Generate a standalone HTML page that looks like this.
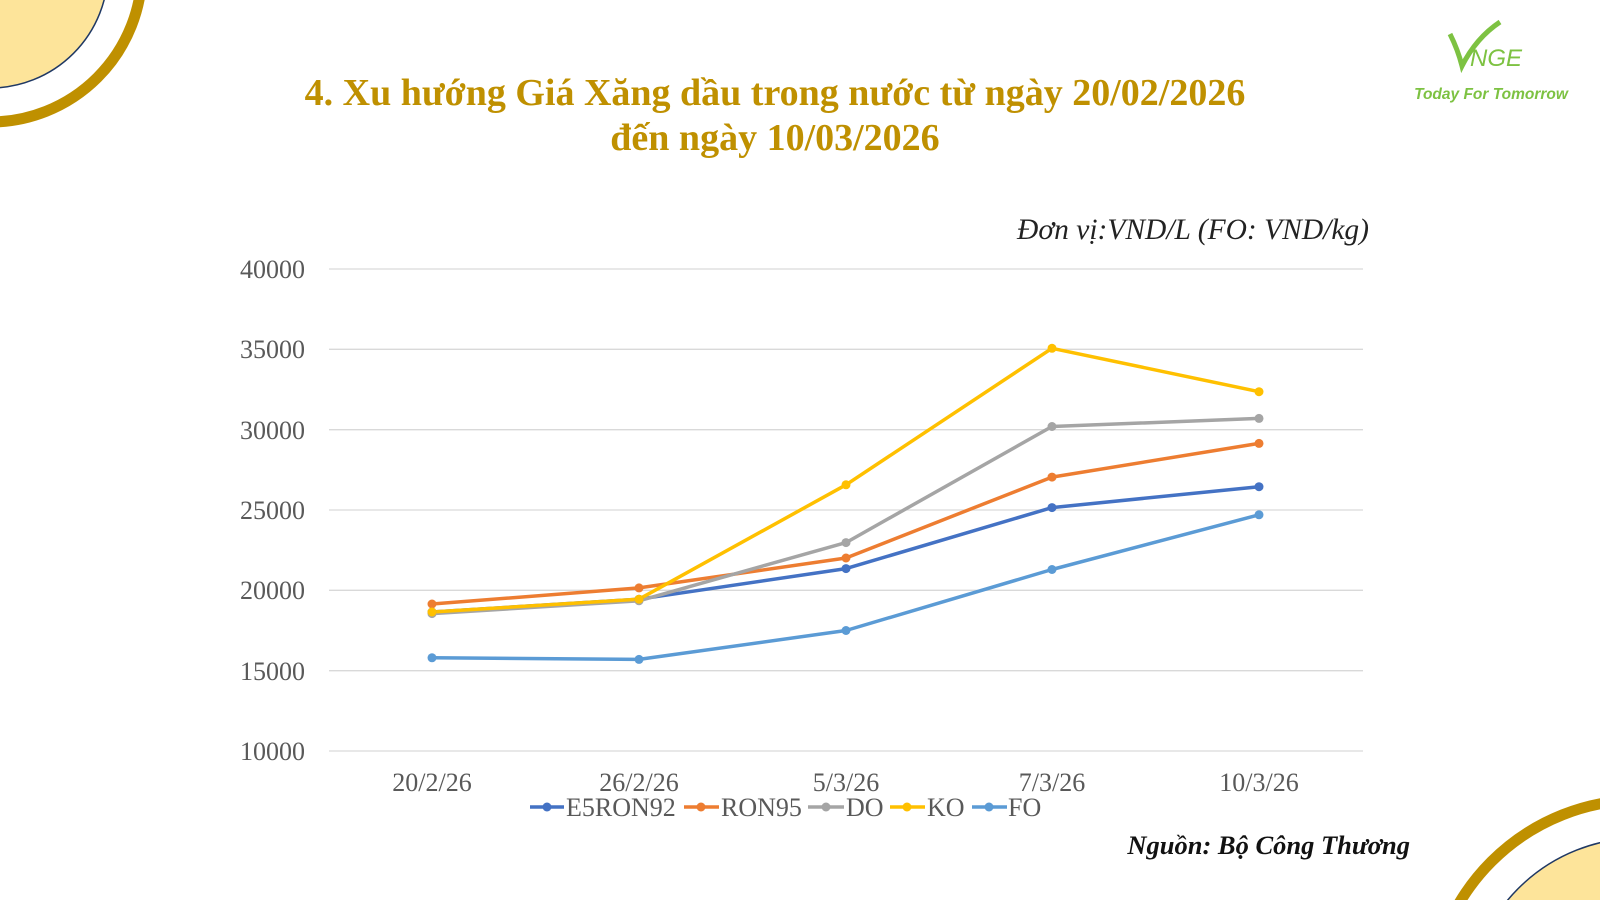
<!DOCTYPE html>
<html style="overflow:hidden"><head><meta charset="utf-8"><style>
html,body{margin:0;width:1600px;height:900px;overflow:hidden}
body{background:#fff;position:relative;font-family:"Liberation Serif",serif}
.t{position:absolute;left:0;width:1550px;text-align:center;color:#bf9000;font-weight:bold;font-size:38px;line-height:45px}
</style></head><body>
<svg width="1600" height="900" style="position:absolute;left:0;top:0" font-family="Liberation Serif, serif">
<circle cx="-10" cy="-30" r="118" fill="#fde49a" stroke="#1f3864" stroke-width="1.5"/>
<circle cx="-10" cy="-30" r="152" fill="none" stroke="#bf9000" stroke-width="11"/>
<circle cx="1640" cy="1010" r="172" fill="#fde49a" stroke="#1f3864" stroke-width="1.5"/>
<circle cx="1640" cy="1010" r="210" fill="none" stroke="#bf9000" stroke-width="11"/>
<g stroke="#d9d9d9" stroke-width="1.3">
<line x1="329" x2="1363" y1="269" y2="269"/><line x1="329" x2="1363" y1="349.3" y2="349.3"/>
<line x1="329" x2="1363" y1="429.7" y2="429.7"/><line x1="329" x2="1363" y1="510" y2="510"/>
<line x1="329" x2="1363" y1="590.3" y2="590.3"/><line x1="329" x2="1363" y1="670.7" y2="670.7"/>
<line x1="329" x2="1363" y1="751" y2="751"/></g>
<g font-size="26" fill="#595959" text-anchor="end">
<text x="305" y="278">40000</text><text x="305" y="358">35000</text><text x="305" y="439">30000</text>
<text x="305" y="519">25000</text><text x="305" y="599">20000</text><text x="305" y="680">15000</text><text x="305" y="760">10000</text></g>
<g font-size="26" fill="#595959" text-anchor="middle">
<text x="432" y="791">20/2/26</text><text x="639" y="791">26/2/26</text><text x="846" y="791">5/3/26</text>
<text x="1052" y="791">7/3/26</text><text x="1259" y="791">10/3/26</text></g>
<g fill="none" stroke-width="3.5" stroke-linejoin="round">
<polyline stroke="#5b9bd5" points="432,657.8 639,659.4 846,630.5 1052,569.5 1259,514.8"/>
<polyline stroke="#4472c4" points="432,612.0 639,599.2 846,568.6 1052,507.6 1259,486.7"/>
<polyline stroke="#ed7d31" points="432,604.0 639,587.9 846,558.0 1052,477.1 1259,443.4"/>
<polyline stroke="#a5a5a5" points="432,613.6 639,600.8 846,542.6 1052,426.5 1259,418.4"/>
<polyline stroke="#ffc000" points="432,612.0 639,599.2 846,484.8 1052,348.3 1259,391.7"/>
</g>
<g stroke="none">
<g fill="#5b9bd5"><circle cx="432" cy="657.8" r="4.5"/><circle cx="639" cy="659.4" r="4.5"/><circle cx="846" cy="630.5" r="4.5"/><circle cx="1052" cy="569.5" r="4.5"/><circle cx="1259" cy="514.8" r="4.5"/></g>
<g fill="#4472c4"><circle cx="432" cy="612" r="4.5"/><circle cx="639" cy="599.2" r="4.5"/><circle cx="846" cy="568.6" r="4.5"/><circle cx="1052" cy="507.6" r="4.5"/><circle cx="1259" cy="486.7" r="4.5"/></g>
<g fill="#ed7d31"><circle cx="432" cy="604" r="4.5"/><circle cx="639" cy="587.9" r="4.5"/><circle cx="846" cy="558" r="4.5"/><circle cx="1052" cy="477.1" r="4.5"/><circle cx="1259" cy="443.4" r="4.5"/></g>
<g fill="#a5a5a5"><circle cx="432" cy="613.6" r="4.5"/><circle cx="639" cy="600.8" r="4.5"/><circle cx="846" cy="542.6" r="4.5"/><circle cx="1052" cy="426.5" r="4.5"/><circle cx="1259" cy="418.4" r="4.5"/></g>
<g fill="#ffc000"><circle cx="432" cy="612" r="4.5"/><circle cx="639" cy="599.2" r="4.5"/><circle cx="846" cy="484.8" r="4.5"/><circle cx="1052" cy="348.3" r="4.5"/><circle cx="1259" cy="391.7" r="4.5"/></g>
</g>
<g font-size="26" fill="#595959" stroke-width="3.5">
<line x1="530" x2="564" y1="807" y2="807" stroke="#4472c4"/><circle cx="547" cy="807" r="4.5" fill="#4472c4"/><text x="566" y="816">E5RON92</text>
<line x1="684" x2="719" y1="807" y2="807" stroke="#ed7d31"/><circle cx="701" cy="807" r="4.5" fill="#ed7d31"/><text x="721" y="816">RON95</text>
<line x1="808" x2="844" y1="807" y2="807" stroke="#a5a5a5"/><circle cx="826" cy="807" r="4.5" fill="#a5a5a5"/><text x="846" y="816">DO</text>
<line x1="890" x2="925" y1="807" y2="807" stroke="#ffc000"/><circle cx="907" cy="807" r="4.5" fill="#ffc000"/><text x="927" y="816">KO</text>
<line x1="972" x2="1007" y1="807" y2="807" stroke="#5b9bd5"/><circle cx="989" cy="807" r="4.5" fill="#5b9bd5"/><text x="1008" y="816">FO</text>
</g>
<text x="1369" y="239" font-size="29.5" font-style="italic" text-anchor="end" fill="#222">Đơn vị:VND/L (FO: VND/kg)</text>
<text x="1410" y="854" font-size="26.5" font-style="italic" font-weight="bold" text-anchor="end" fill="#111">Nguồn: Bộ Công Thương</text>
<path d="M1450,34 Q1458,50 1462,66 Q1476,38 1500,22" fill="none" stroke="#7dc242" stroke-width="5"/>
<text x="1470" y="66" font-family="Liberation Sans, sans-serif" font-style="italic" font-size="24" fill="#7dc242">NGE</text>
<text x="1491" y="99" font-family="Liberation Sans, sans-serif" font-style="italic" font-weight="bold" font-size="15.5" fill="#7dc242" text-anchor="middle">Today For Tomorrow</text>
</svg>
<div class="t" style="top:71px">4. Xu hướng Giá Xăng dầu trong nước từ ngày 20/02/2026</div>
<div class="t" style="top:116px">đến ngày 10/03/2026</div>
</body></html>
